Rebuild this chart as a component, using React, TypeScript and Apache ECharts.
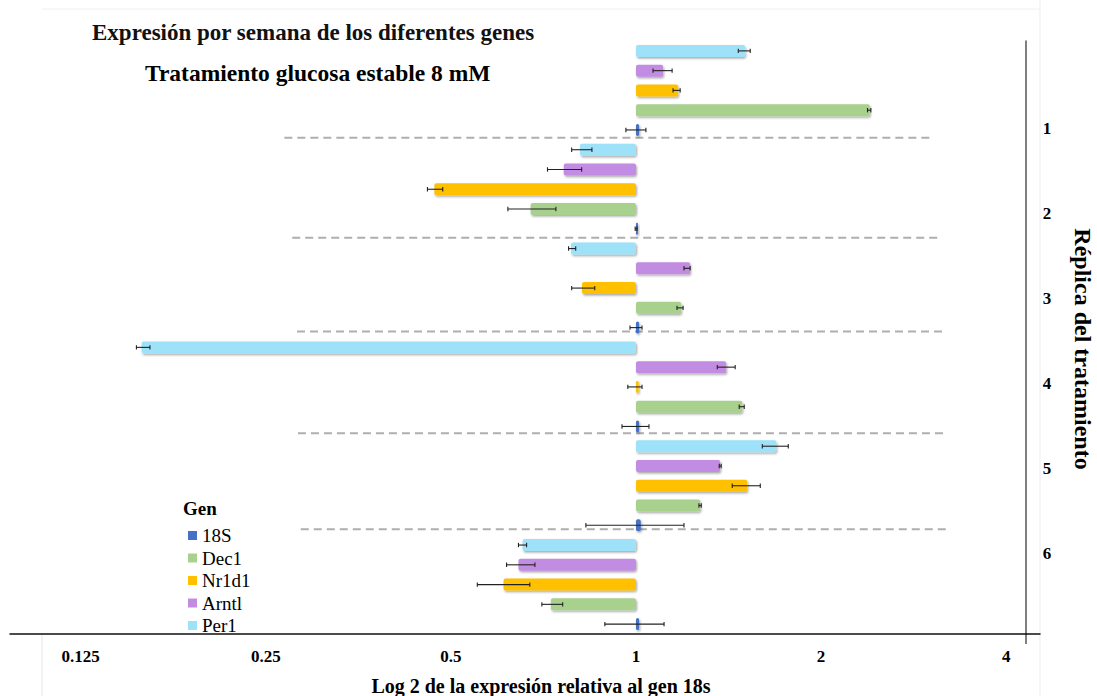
import React, { useEffect, useRef } from "react";
import * as echarts from "echarts";

// Genes in drawing order within each replica (top to bottom)
const genes = ["Per1", "Arntl", "Nr1d1", "Dec1", "18S"];
const legendOrder = ["18S", "Dec1", "Nr1d1", "Arntl", "Per1"];
const replicas = ["1", "2", "3", "4", "5", "6"];
const geneColors: Record<string, string> = {
  Per1: "#9DE2F8",
  Arntl: "#C18CE1",
  Nr1d1: "#FFC000",
  Dec1: "#A9D18E",
  "18S": "#4472C4",
};

// Relative expression (fold change vs 18S), per replica, per gene
const per1 = [1.505, 0.811, 0.784, 0.157, 1.691, 0.654];
const arntl = [1.107, 0.763, 1.225, 1.402, 1.371, 0.644];
const nr1d1 = [1.171, 0.47, 0.817, 1.01, 1.517, 0.609];
const dec1 = [2.4, 0.674, 1.184, 1.489, 1.272, 0.727];
const s18 = [1.012, 1.003, 1.012, 1.012, 1.018, 1.012];

// Error bar bounds (low, high) in fold change
const per1Err = [[1.467, 1.534], [0.786, 0.848], [0.777, 0.798], [0.154, 0.162], [1.605, 1.769], [0.644, 0.664]];
const arntlErr = [[1.066, 1.145], [0.718, 0.816], [1.197, 1.225], [1.356, 1.45], [1.366, 1.376], [0.616, 0.685]];
const nr1d1Err = [[1.149, 1.18], [0.458, 0.485], [0.786, 0.857], [0.97, 1.023], [1.434, 1.593], [0.552, 0.672]];
const dec1Err = [[2.38, 2.41], [0.619, 0.741], [1.166, 1.193], [1.472, 1.5], [1.266, 1.277], [0.703, 0.76]];
const s18Err = [[0.963, 1.038], [0.997, 1.004], [0.978, 1.023], [0.949, 1.05], [0.829, 1.197], [0.89, 1.111]];

// Tick labels (fold change)
const tickValues = [0.125, 0.25, 0.5, 1, 2, 4];

// Dashed separators between replicas: [start fold, end fold, category position]
const separators = [
  [0.268, 3.02, 4.4],
  [0.276, 3.09, 9.45],
  [0.281, 3.17, 14.2],
  [0.282, 3.17, 19.35],
  [0.285, 3.2, 24.2],
];

const valuesByGene: Record<string, number[]> = {
  Per1: per1, Arntl: arntl, Nr1d1: nr1d1, Dec1: dec1, "18S": s18,
};
const errByGene: Record<string, number[][]> = {
  Per1: per1Err, Arntl: arntlErr, Nr1d1: nr1d1Err, Dec1: dec1Err, "18S": s18Err,
};

const SERIF = '"Liberation Serif", "Times New Roman", serif';

export default function App() {
  const ref = useRef<HTMLDivElement>(null);

  useEffect(() => {
    if (!ref.current) return;
    const chart = echarts.init(ref.current, undefined, { renderer: "svg" });

    const categories: string[] = [];
    replicas.forEach((r) => genes.forEach((g) => categories.push(r + "-" + g)));

    const barSeries = genes.map((g) => ({
      name: g,
      type: "bar",
      barWidth: 12,
      barGap: "-100%",
      barMinHeight: 2,
      itemStyle: {
        color: geneColors[g],
        borderRadius: 2,
        shadowBlur: 2,
        shadowColor: "rgba(0,0,0,0.35)",
        shadowOffsetX: 1,
        shadowOffsetY: 1.5,
      },
      z: 2,
      data: categories.map((c) => {
        const [r, gene] = c.split("-");
        if (gene !== g) return "-";
        return Math.log2(valuesByGene[g][replicas.indexOf(r)]);
      }),
    }));

    const errData: number[][] = [];
    replicas.forEach((r, ri) =>
      genes.forEach((g, gi) => {
        const e = errByGene[g][ri];
        errData.push([Math.log2(e[0]), Math.log2(e[1]), ri * genes.length + gi]);
      })
    );

    const sepData = separators.map((s) => [Math.log2(s[0]), Math.log2(s[1]), s[2]]);

    const option: any = {
      animation: false,
      textStyle: { fontFamily: "Liberation Serif" },
      grid: { left: 10, top: 41, width: 1030, height: 593, containLabel: false },
      xAxis: {
        type: "value",
        min: -3.382,
        max: 2.183,
        axisLine: { show: true, lineStyle: { color: "#111", width: 1.5 } },
        axisTick: { show: false },
        splitLine: { show: false },
        axisLabel: {
          customValues: tickValues.map((v) => Math.log2(v)),
          formatter: (v: number) => String(Math.round(Math.pow(2, v) * 1000) / 1000),
          fontFamily: "Liberation Serif",
          fontWeight: "bold",
          fontSize: 17,
          color: "#000",
          margin: 14,
        },
      },
      yAxis: {
        type: "category",
        data: categories,
        inverse: true,
        position: "right",
        offset: -14,
        axisLine: { show: true, onZero: false, lineStyle: { color: "#555", width: 1.5 } },
        axisTick: { show: false },
        axisLabel: { show: false },
        splitLine: { show: false },
      },
      legend: {
        data: legendOrder,
        orient: "vertical",
        left: 183,
        top: 521,
        icon: "rect",
        itemWidth: 9,
        itemHeight: 9,
        itemGap: 3.5,
        textStyle: {
          fontFamily: "Liberation Serif",
          fontSize: 19,
          fontWeight: "normal",
          lineHeight: 19,
          color: "#000",
        },
        itemStyle: { shadowBlur: 0, shadowOffsetX: 0, shadowOffsetY: 0, borderRadius: 0 },
      },
      series: [
        ...barSeries,
        {
          type: "custom",
          name: "sep",
          silent: true,
          z: 1,
          data: sepData,
          encode: { x: [0, 1] },
          renderItem: (params: any, api: any) => {
            const x0 = api.value(0);
            const x1 = api.value(1);
            const pos = api.value(2);
            const base = Math.floor(pos);
            const band = api.size([0, 1])[1];
            const p0 = api.coord([x0, base]);
            const p1 = api.coord([x1, base]);
            const y = p0[1] + (pos - base) * band;
            return {
              type: "line",
              shape: { x1: p0[0], y1: y, x2: p1[0], y2: y },
              style: { stroke: "#AFAFAF", lineWidth: 2, lineDash: [8, 5] },
            };
          },
        },
        {
          type: "custom",
          name: "err",
          silent: true,
          z: 5,
          data: errData,
          encode: { x: [0, 1], y: 2 },
          renderItem: (params: any, api: any) => {
            const lo = api.coord([api.value(0), api.value(2)]);
            const hi = api.coord([api.value(1), api.value(2)]);
            const h = 2.2;
            const st = { stroke: "#222", lineWidth: 1.1 };
            return {
              type: "group",
              children: [
                { type: "line", shape: { x1: lo[0], y1: lo[1], x2: hi[0], y2: hi[1] }, style: st },
                { type: "line", shape: { x1: lo[0], y1: lo[1] - h, x2: lo[0], y2: lo[1] + h }, style: st },
                { type: "line", shape: { x1: hi[0], y1: hi[1] - h, x2: hi[0], y2: hi[1] + h }, style: st },
              ],
            };
          },
        },
      ],
      graphic: [
        { type: "line", shape: { x1: 1040, y1: 0, x2: 1040, y2: 696 }, style: { stroke: "#EBEBEB", lineWidth: 1 }, silent: true },
        { type: "line", shape: { x1: 42, y1: 634, x2: 42, y2: 696 }, style: { stroke: "#E5E5E5", lineWidth: 1 }, silent: true },
        { type: "line", shape: { x1: 42, y1: 9, x2: 1040, y2: 9 }, style: { stroke: "#F0F0F0", lineWidth: 1 }, silent: true },
        { type: "line", shape: { x1: 1026, y1: 634, x2: 1026, y2: 644 }, style: { stroke: "#555", lineWidth: 1.5 }, silent: true },
        {
          type: "text", x: 92, y: 32,
          style: { text: "Expresión por semana de los diferentes genes", font: `bold 23px ${SERIF}`, fill: "#111", textVerticalAlign: "middle" },
        },
        {
          type: "text", x: 145, y: 73,
          style: { text: "Tratamiento glucosa estable 8 mM", font: `bold 23.5px ${SERIF}`, fill: "#000", textVerticalAlign: "middle" },
        },
        {
          type: "text", x: 541, y: 686,
          style: { text: "Log 2 de la expresión relativa al gen 18s", font: `bold 20px ${SERIF}`, fill: "#000", textAlign: "center", textVerticalAlign: "middle" },
        },
        {
          type: "text", x: 1083, y: 349, rotation: -Math.PI / 2,
          style: { text: "Réplica del tratamiento", font: `bold 24px ${SERIF}`, fill: "#000", textAlign: "center", textVerticalAlign: "middle" },
        },
        {
          type: "text", x: 183, y: 508,
          style: { text: "Gen", font: `bold 19px ${SERIF}`, fill: "#000", textVerticalAlign: "middle" },
        },
        ...replicas.map((r, i) => ({
          type: "text", x: 1047, y: 128 + i * 85,
          style: { text: r, font: `bold 17px ${SERIF}`, fill: "#000", textAlign: "center", textVerticalAlign: "middle" },
        })),
      ],
    };

    chart.setOption(option);
    return () => chart.dispose();
  }, []);

  return (
    <div
      ref={ref}
      style={{ position: "fixed", left: 0, top: 0, width: 1097, height: 696, background: "#fff" }}
    />
  );
}
